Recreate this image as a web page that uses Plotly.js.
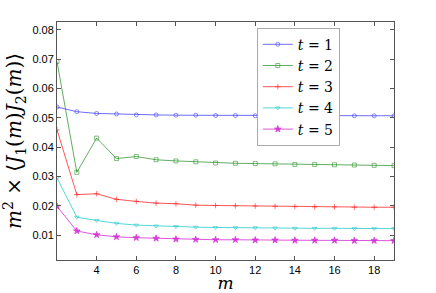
<!DOCTYPE html>
<html><head><meta charset="utf-8">
<script src="https://cdn.plot.ly/plotly-3.0.1.min.js"></script>
<style>html,body{margin:0;padding:0;background:#fff}</style>
</head><body><div id="chart" style="width:436px;height:293px"></div>
<script>
const m = [2,3,4,5,6,7,8,9,10,11,12,13,14,15,16,17,18,19];
const t1 = [0.0537,0.0521,0.0515,0.0513,0.0510,0.0510,0.0509,0.0509,0.0508,0.0508,0.0507,0.0507,0.0507,0.0507,0.0507,0.0507,0.0507,0.0507];
const t2 = [0.0692,0.0314,0.0431,0.0361,0.0368,0.0357,0.0353,0.0350,0.0346,0.0345,0.0344,0.0343,0.0341,0.0341,0.0340,0.0339,0.0338,0.0337];
const t3 = [0.0459,0.0238,0.0241,0.0222,0.0215,0.0209,0.0207,0.0202,0.0201,0.0200,0.0199,0.0198,0.0197,0.0196,0.0196,0.0195,0.0195,0.0195];
const t4 = [0.0295,0.0161,0.0150,0.0140,0.0134,0.0131,0.0129,0.0127,0.0126,0.0125,0.0125,0.0124,0.0123,0.0123,0.0123,0.0122,0.0122,0.0122];
const t5 = [0.0198,0.0114,0.0101,0.0094,0.0091,0.0089,0.0086,0.0085,0.0084,0.0084,0.0083,0.0083,0.0082,0.0082,0.0082,0.0081,0.0081,0.0081];
const names = ['<i>t</i> = 1','<i>t</i> = 2','<i>t</i> = 3','<i>t</i> = 4','<i>t</i> = 5'];
const series = [t1,t2,t3,t4,t5];
const colors = ['rgba(60,60,255,0.75)','rgba(30,140,30,0.7)','rgba(255,30,30,0.75)','rgba(30,200,200,0.75)','rgba(210,30,210,0.75)'];
const symbols = ['circle-open','square-open','cross-thin-open','triangle-down-open','star'];
const traces = series.map((s,i)=>({
  x: m, y: s, name: names[i], type:'scatter', mode:'lines+markers',
  line:{color:colors[i], width:1},
  marker:{symbol:symbols[i], size: i===4?5:4, color:colors[i], line:{color:colors[i], width:0.8}}
}));
const layout = {
  width:436, height:293,
  margin:{l:57,r:42,t:22,b:33},
  paper_bgcolor:'#fff', plot_bgcolor:'#fff',
  showlegend:true,
  legend:{x:0.593, y:0.976, xanchor:'left', yanchor:'top', bgcolor:'#fff', bordercolor:'#aaa', borderwidth:1,
    font:{family:'DejaVu Serif, serif', size:14, color:'#000'}, tracegroupgap:0, itemwidth:30},
  xaxis:{range:[2,19], tickvals:[4,6,8,10,12,14,16,18], ticks:'inside', ticklen:4, tickcolor:'#555',
    showline:true, linecolor:'#555', linewidth:1, mirror:'ticks', showgrid:false, zeroline:false,
    tickfont:{family:'Liberation Sans, Arial, sans-serif', size:11, color:'#000'},
    title:{text:'<i>m</i>', font:{family:'DejaVu Serif, serif', size:17, color:'#000'}, standoff:2}},
  yaxis:{range:[0.0015,0.0827], tickvals:[0.01,0.02,0.03,0.04,0.05,0.06,0.07,0.08], tickformat:'.2f',
    ticks:'inside', ticklen:4, tickcolor:'#555',
    showline:true, linecolor:'#555', linewidth:1, mirror:'ticks', showgrid:false, zeroline:false,
    tickfont:{family:'Liberation Sans, Arial, sans-serif', size:11, color:'#000'},
    title:{text:'<i>m</i><sup>2</sup> × ⟨<i>J</i><sub>1</sub>(<i>m</i>)<i>J</i><sub>2</sub>(<i>m</i>)⟩', font:{family:'DejaVu Serif, serif', size:20, color:'#000'}, standoff:7}}
};
Plotly.newPlot('chart', traces, layout, {staticPlot:true, displayModeBar:false});
</script></body></html>
